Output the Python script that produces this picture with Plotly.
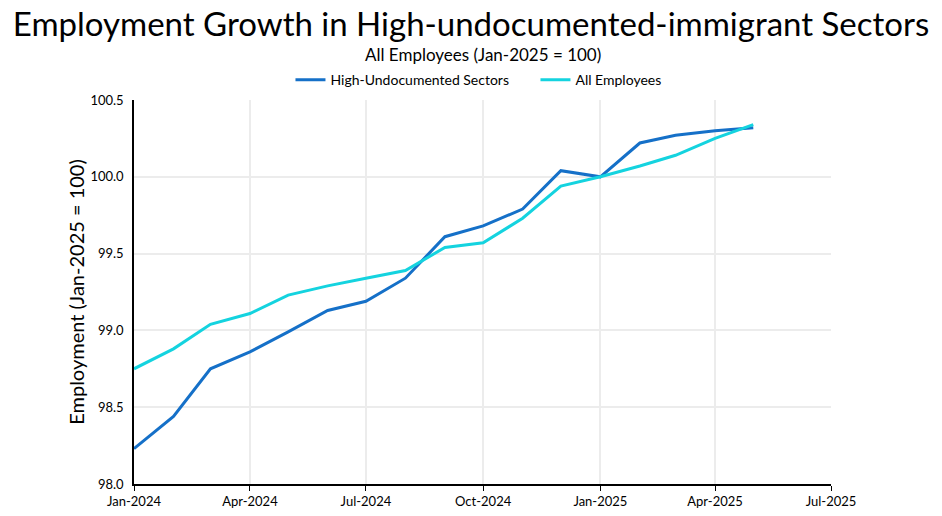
import plotly.graph_objects as go

months = ["2024-01-01", "2024-02-01", "2024-03-01", "2024-04-01", "2024-05-01", "2024-06-01",
          "2024-07-01", "2024-08-01", "2024-09-01", "2024-10-01", "2024-11-01", "2024-12-01",
          "2025-01-01", "2025-02-01", "2025-03-01", "2025-04-01", "2025-05-01"]
high_undocumented = [98.23, 98.44, 98.75, 98.86, 98.99, 99.13, 99.19, 99.34, 99.61, 99.68,
                     99.79, 100.04, 100.00, 100.22, 100.27, 100.30, 100.32]
all_employees = [98.75, 98.88, 99.04, 99.11, 99.23, 99.29, 99.34, 99.39, 99.54, 99.57,
                 99.73, 99.94, 100.00, 100.07, 100.14, 100.25, 100.34]
tick_vals = ["2024-01-01", "2024-04-01", "2024-07-01", "2024-10-01", "2025-01-01", "2025-04-01", "2025-07-01"]
tick_text = ["Jan-2024", "Apr-2024", "Jul-2024", "Oct-2024", "Jan-2025", "Apr-2025", "Jul-2025"]
y_ticks = [98.0, 98.5, 99.0, 99.5, 100.0, 100.5]
y_tick_text = ["98.0", "98.5", "99.0", "99.5", "100.0", "100.5"]

FONT = "Lato, 'Open Sans', sans-serif"

fig = go.Figure()
fig.add_trace(go.Scatter(x=months, y=high_undocumented, mode="lines", name="High-Undocumented Sectors",
                         line=dict(color="#1570c8", width=3)))
fig.add_trace(go.Scatter(x=months, y=all_employees, mode="lines", name="All Employees",
                         line=dict(color="#14d3df", width=3)))

fig.update_layout(
    width=942, height=516,
    margin=dict(l=134, r=111, t=100, b=32, autoexpand=False),
    paper_bgcolor="white", plot_bgcolor="white",
    font=dict(family=FONT, color="#000"),
    showlegend=True,
    title=dict(text="Employment Growth in High-undocumented-immigrant Sectors",
               x=0.5, xref="container", xanchor="center",
               y=0.9535, yref="container", yanchor="middle",
               font=dict(size=33, family=FONT, color="#000")),
    legend=dict(orientation="h", x=0.2245, xanchor="left", y=1.052, yanchor="middle",
                font=dict(size=14, family=FONT, color="#000"), entrywidth=200),
    annotations=[
        dict(text="All Employees (Jan-2025 = 100)", xref="paper", yref="paper",
             x=0.5, y=1.0, xanchor="center", yanchor="middle", showarrow=False,
             font=dict(size=17, family=FONT, color="#000"), yshift=46),
    ],
    xaxis=dict(type="date", range=["2024-01-01", "2025-07-01"], tickvals=tick_vals, ticktext=tick_text,
               showgrid=True, gridcolor="#ececec", gridwidth=1.5,
               showline=True, linecolor="#000", linewidth=1.5,
               ticks="outside", ticklen=5, tickcolor="#000", automargin=False,
               tickfont=dict(size=13, family=FONT), zeroline=False),
    yaxis=dict(range=[98.0, 100.5], tickvals=y_ticks, ticktext=y_tick_text,
               showgrid=True, gridcolor="#ececec", gridwidth=1.5,
               showline=True, linecolor="#000", linewidth=1.5,
               ticks="", ticklabelstandoff=6, automargin=False,
               tickfont=dict(size=13, family=FONT), zeroline=False,
               title=dict(text="Employment (Jan-2025 = 100)", font=dict(size=20, family=FONT), standoff=0)),
)

fig.write_html("out.html", config={"displayModeBar": False},
               post_script="document.body.style.margin='0';")
